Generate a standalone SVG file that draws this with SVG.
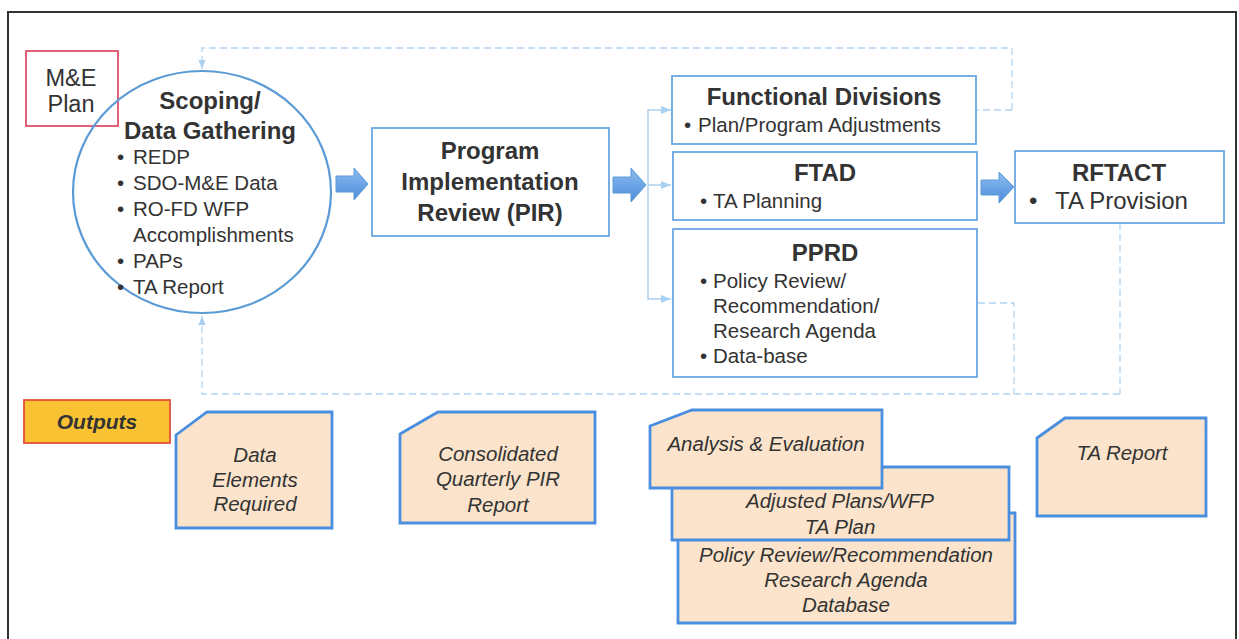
<svg xmlns="http://www.w3.org/2000/svg" width="1239" height="639" viewBox="0 0 1239 639">
<defs>
<style>
text{font-family:"Liberation Sans",Arial,sans-serif;fill:#333}
.t{font-weight:bold;font-size:24px;text-anchor:middle}
.b{font-size:20.5px}
.box{fill:#fff;stroke:#6aa6e0;stroke-width:1.8}
.doc{fill:#fbe4cb;stroke:#4a8ee0;stroke-width:2.8}
.o{font-style:italic;font-size:20.5px;text-anchor:middle}
.dash{fill:none;stroke:#b3d6f3;stroke-width:1.3;stroke-dasharray:7 4}
.br{fill:none;stroke:#a9d1f2;stroke-width:1.5}
.blk{fill:url(#g);stroke:#5b9bd5;stroke-width:1}
</style>
<linearGradient id="g" x1="0" y1="0" x2="0" y2="1">
<stop offset="0" stop-color="#8cbcef"/><stop offset="1" stop-color="#4d8ddb"/>
</linearGradient>
<marker id="ah" viewBox="0 0 10 10" refX="10" refY="5" markerWidth="7" markerHeight="7" orient="auto">
<path d="M0,1 L10,5 L0,9 Z" fill="#a9d1f2"/>
</marker>
</defs>
<rect width="1239" height="639" fill="#fff"/>
<path d="M8,645 V12 H1236 V645" fill="none" stroke="#333" stroke-width="2"/>

<g id="connectors">
<path class="dash" d="M1012,110 H977 M1012,110 V48 H202 V69" marker-end="url(#ah)"/>
<path class="dash" d="M978,303 H1014 V394 M1120,223 V394 M1120,394 H202 V316" marker-end="url(#ah)"/>
<path class="br" d="M648,185 H671" marker-end="url(#ah)"/>
<path class="br" d="M648,185 V110 H671" marker-end="url(#ah)"/>
<path class="br" d="M648,185 V299 H671" marker-end="url(#ah)"/>
<path class="blk" d="M336,176 H354 V168 L368,184 L354,200 V192 H336 Z"/>
<path class="blk" d="M613,177 H631 V168 L646,185 L631,202 V193 H613 Z"/>
<path class="blk" d="M981,180 H999 V172 L1014,187 L999,203 V195 H981 Z"/>
</g>

<g id="me-plan">
<rect x="26" y="51" width="92" height="75" fill="none" stroke="#e0506a" stroke-width="1.8"/>
<text x="71" y="86" font-size="23.5" text-anchor="middle">M&amp;E</text>
<text x="71" y="112" font-size="23.5" text-anchor="middle">Plan</text>
</g>

<g id="scoping">
<ellipse cx="202" cy="192" rx="129" ry="121" fill="none" stroke="#5b9bd5" stroke-width="2.2"/>
<text class="t" x="210" y="109">Scoping/</text>
<text class="t" x="210" y="139">Data Gathering</text>
<text class="b"><tspan x="117" y="164">•</tspan><tspan x="133" y="164">REDP</tspan><tspan x="117" y="190">•</tspan><tspan x="133" y="190">SDO-M&amp;E Data</tspan><tspan x="117" y="216">•</tspan><tspan x="133" y="216">RO-FD WFP</tspan><tspan x="133" y="242">Accomplishments</tspan><tspan x="117" y="268">•</tspan><tspan x="133" y="268">PAPs</tspan><tspan x="117" y="294">•</tspan><tspan x="133" y="294">TA Report</tspan></text>
</g>

<g id="pir">
<rect class="box" x="372" y="128" width="237" height="108"/>
<text class="t" x="490" y="159">Program</text>
<text class="t" x="490" y="190">Implementation</text>
<text class="t" x="490" y="221">Review (PIR)</text>
</g>

<g id="functional">
<rect class="box" x="672" y="76" width="304" height="68"/>
<text class="t" x="824" y="105" font-size="23">Functional Divisions</text>
<text class="b"><tspan x="684" y="132">•</tspan><tspan x="698" y="132">Plan/Program Adjustments</tspan></text>
</g>

<g id="ftad">
<rect class="box" x="673" y="152" width="304" height="68"/>
<text class="t" x="825" y="181">FTAD</text>
<text class="b"><tspan x="700" y="208">•</tspan><tspan x="713" y="208">TA Planning</tspan></text>
</g>

<g id="pprd">
<rect class="box" x="673" y="229" width="304" height="148"/>
<text class="t" x="825" y="261">PPRD</text>
<text class="b"><tspan x="700" y="288">•</tspan><tspan x="713" y="288">Policy Review/</tspan><tspan x="713" y="313">Recommendation/</tspan><tspan x="713" y="338">Research Agenda</tspan><tspan x="700" y="363">•</tspan><tspan x="713" y="363">Data-base</tspan></text>
</g>

<g id="rftact">
<rect class="box" x="1015" y="151" width="209" height="72"/>
<text class="t" x="1119" y="181">RFTACT</text>
<text font-size="24"><tspan x="1029" y="209">•</tspan><tspan x="1055" y="209">TA Provision</tspan></text>
</g>

<g id="outputs">
<rect x="24" y="400" width="146" height="43" fill="#f8c232" stroke="#e0503a" stroke-width="1.8"/>
<text x="97" y="429" font-size="21" font-weight="bold" font-style="italic" text-anchor="middle">Outputs</text>
</g>

<g id="out-data">
<path class="doc" d="M176,435 L207,412 H332 V528 H176 Z"/>
<text class="o" x="255" y="462">Data</text>
<text class="o" x="255" y="487">Elements</text>
<text class="o" x="255" y="511">Required</text>
</g>

<g id="out-pir">
<path class="doc" d="M400,434 L438,412 H595 V523 H400 Z"/>
<text class="o" x="498" y="461">Consolidated</text>
<text class="o" x="498" y="486">Quarterly PIR</text>
<text class="o" x="498" y="512">Report</text>
</g>

<g id="out-policy">
<path class="doc" d="M678,513 H1015 V623 H678 Z"/>
<text class="o" x="846" y="562">Policy Review/Recommendation</text>
<text class="o" x="846" y="587">Research Agenda</text>
<text class="o" x="846" y="612">Database</text>
</g>

<g id="out-adjusted">
<path class="doc" d="M672,467 H1009 V540 H672 Z"/>
<text class="o" x="840" y="508">Adjusted Plans/WFP</text>
<text class="o" x="840" y="534">TA Plan</text>
</g>

<g id="out-analysis">
<path class="doc" d="M650,426 L692,410 H882 V488 H650 Z"/>
<text class="o" x="766" y="451">Analysis &amp; Evaluation</text>
</g>

<g id="out-ta">
<path class="doc" d="M1037,438 L1065,418 H1206 V516 H1037 Z"/>
<text class="o" x="1122" y="460">TA Report</text>
</g>
</svg>
